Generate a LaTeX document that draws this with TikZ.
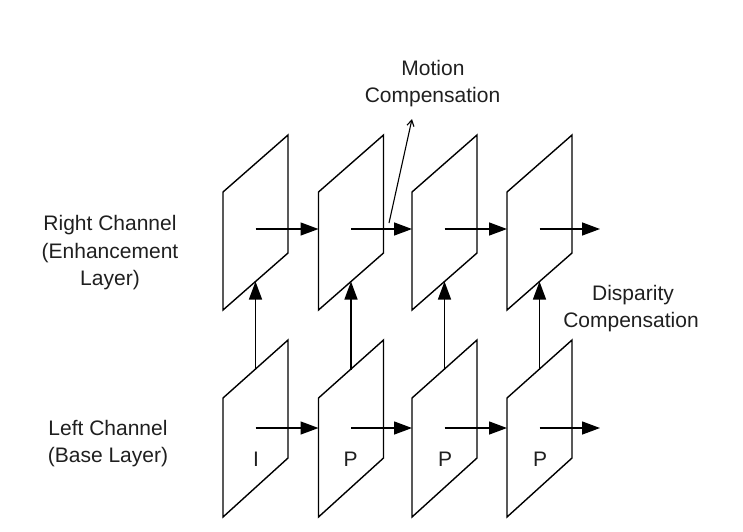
\documentclass[tikz,border=0pt]{standalone}
\usepackage{fontspec}
\setmainfont{Liberation Sans}
\usetikzlibrary{arrows.meta}
\begin{document}
\begin{tikzpicture}[x=1pt,y=-1pt,
  framebox/.style={draw, line width=1.4pt, line join=miter},
  flow/.style={line width=1.4pt, -{Triangle[length=18pt,width=13pt]}},
  thinflow/.style={line width=1.1pt, -{Straight Barb[length=6pt,width=7pt]}},
  lbl/.style={font=\fontsize{21}{26}\selectfont, text=black!88, inner sep=0pt, anchor=base},
  frlbl/.style={font=\fontsize{21}{26}\selectfont, text=black!88, inner sep=0pt, anchor=base}]
\useasboundingbox (0,0) rectangle (743,531);
% frames
\foreach \i/\x in {1/223,2/318.5,3/412,4/507}{
  \draw[framebox] (\x,192) -- (\x,310) -- (\x+65,253) -- (\x+65,135) -- cycle;
  \draw[framebox] (\x,398) -- (\x,517) -- (\x+65,458) -- (\x+65,340) -- cycle;
  \coordinate (u\i c) at (\x+32.5,229);
  \coordinate (u\i l) at (\x,229);
  \coordinate (u\i b) at (\x+32.5,281.5);
  \coordinate (l\i c) at (\x+32.5,428);
  \coordinate (l\i l) at (\x,428);
  \coordinate (l\i t) at (\x+32.5,369.5);
}
\coordinate (u5l) at (600,229);
\coordinate (l5l) at (600,428);
% frame type labels
\node[frlbl] (f1) at (256,466) {I};
\node[frlbl] (f2) at (350.5,466) {P};
\node[frlbl] (f3) at (445,466) {P};
\node[frlbl] (f4) at (540,466) {P};
% horizontal arrows
\foreach \i/\j in {1/2,2/3,3/4,4/5}{
  \draw[flow] (u\i c) -- (u\j l);
  \draw[flow] (l\i c) -- (l\j l);
}
% vertical arrows
\foreach \i in {1,2,3,4}{
  \draw[flow] (l\i t) -- (u\i b);
}
% motion compensation pointer
\coordinate (mstart) at (389,223);
\coordinate (mend) at (412,119);
\draw[thinflow] (mstart) -- (mend);
% labels
\node[lbl] (m1) at (433,75.5) {Motion};
\node[lbl] (m2) at (432.5,102) {Compensation};
\node[lbl] (r1) at (110,230) {Right Channel};
\node[lbl] (r2) at (110,258) {(Enhancement};
\node[lbl] (r3) at (110,285) {Layer)};
\node[lbl] (b1) at (108,435) {Left Channel};
\node[lbl] (b2) at (108,462.7) {(Base Layer)};
\node[lbl] (d1) at (633,300.5) {Disparity};
\node[lbl] (d2) at (631,327.5) {Compensation};
\end{tikzpicture}
\end{document}
